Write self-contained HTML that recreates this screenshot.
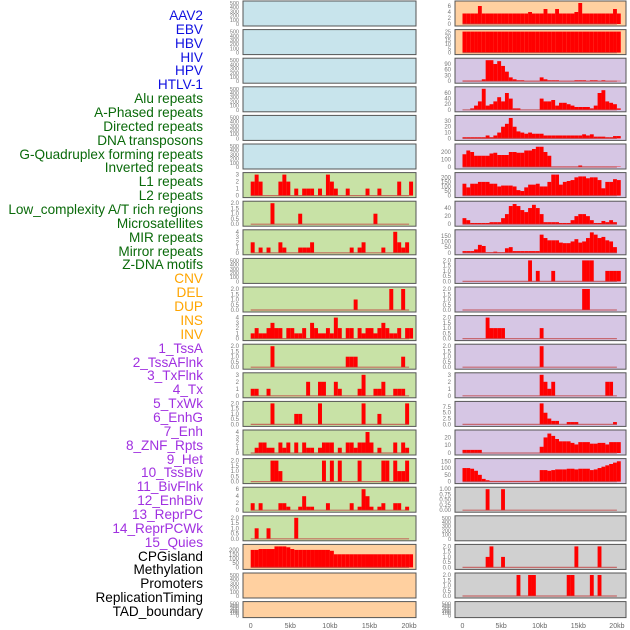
<!DOCTYPE html>
<html><head><meta charset="utf-8"><style>
body{margin:0;background:#fff;width:630px;height:630px;overflow:hidden;font-family:"Liberation Sans",sans-serif}
#labels{position:absolute;left:0;top:0;width:203px}
.lb{position:absolute;right:0;font-size:13.6px;white-space:nowrap;line-height:14px}
svg{position:absolute;left:0;top:0}
</style></head><body>
<div id="labels"></div>
<svg id="chart" width="630" height="630"></svg>
<script>
const trackNames=["AAV2","EBV","HBV","HIV","HPV","HTLV-1","Alu repeats","A-Phased repeats","Directed repeats","DNA transposons","G-Quadruplex forming repeats","Inverted repeats","L1 repeats","L2 repeats","Low_complexity A/T rich regions","Microsatellites","MIR repeats","Mirror repeats","Z-DNA motifs","CNV","DEL","DUP","INS","INV","1_TssA","2_TssAFlnk","3_TxFlnk","4_Tx","5_TxWk","6_EnhG","7_Enh","8_ZNF_Rpts","9_Het","10_TssBiv","11_BivFlnk","12_EnhBiv","13_ReprPC","14_ReprPCWk","15_Quies","CPGisland","Methylation","Promoters","ReplicationTiming","TAD_boundary"];
const trackColorGroups=[6,13,5,15,5];
const groupColors=["#1010e0","#0a6a0a","#ffa500","#a030e0","#000"];
const xTickLabels=["0","5kb","10kb","15kb","20kb"];
const xTickKb=[0,5,10,15,20];
const E=[];
const L6=[2,3,2,0,0,0,0,2,3,2,0,1,0,1,1,1,0,1,0,3,2,1,0,0,1,0,0,0,0,1,0,0,1,0,0,0,0,2,0,0,2];
const L7=[0,0,0,0,0,2,0,0,0,0,0,0,1,0,0,0,0,0,0,0,0,0,0,0,0,0,0,0,0,0,0,1,0,0,0,0,0,0,0,0,0];
const L8=[2,0,1,0,1,0,0,2,1,0,0,0,1,1,1,2,0,0,0,0,0,0,0,0,0,1,0,1,2,0,0,0,0,1,0,0,4,2,1,2,0];
const L10=[0,0,0,0,0,0,0,0,0,0,0,0,0,0,0,0,0,0,0,0,0,0,0,0,0,0,1,0,0,0,0,0,0,0,0,2,0,0,2,0,0];
const L11=[1,2,1,1,2,3,2,2,0,2,2,1,1,2,0,3,2,1,1,2,1,4,2,0,2,2,0,2,1,2,2,1,2,3,2,1,1,2,0,2,2];
const L12=[0,0,0,0,0,2,0,0,0,0,0,0,0,0,0,0,0,0,0,0,0,0,0,0,1,1,1,0,0,0,0,0,0,0,0,0,0,0,1,0,0];
const L13=[1,1,0,0,1,0,0,0,0,0,0,0,0,0,2,0,0,2,2,0,0,2,1,0,0,0,0,1,3,0,0,1,1,2,0,0,1,1,1,0,0];
const L14=[0,0,0,0,0,2,0,0,0,0,0,1,1,0,0,0,0,2,0,0,0,0,0,0,0,0,0,0,2,0,0,0,1,0,0,0,0,0,0,2,0];
const L15=[0,1,2,2,1,1,0,2,1,2,0,2,0,2,1,1,0,1,2,2,2,0,1,0,2,2,1,2,2,4,2,0,1,0,0,0,2,0,2,1,0];
const L16=[0,0,0,0,0,2,2,1,0,0,0,0,0,0,0,0,0,0,2,0,2,0,2,0,0,0,0,2,0,0,0,0,0,2,2,0,2,1,1,2,0];
const L17=[2,0,2,0,0,0,0,2,2,1,0,0,1,4,1,1,0,0,0,2,0,0,0,0,0,2,0,1,6,4,1,0,1,2,0,0,2,2,0,1,0];
const L18=[0,1,0,0,1,0,0,0,0,0,0,2,0,0,0,0,0,0,0,0,0,0,0,0,0,0,0,0,0,0,0,0,0,0,0,0,0,0,0,0,0];
const L19=[200,200,210,210,210,210,240,240,240,230,210,200,200,200,200,200,200,200,200,200,190,150,150,150,150,150,150,150,150,150,150,150,150,150,150,150,150,150,150,150,150];
const R0=[3.5,3.5,3.5,3.5,6,3.5,3.5,3.5,3.5,3.5,3.5,3.5,3.5,3.5,3.5,3.5,3.5,4,3.5,3.5,3.5,5,3.5,3.5,5,3.5,3.5,3.5,3.5,4,7,3.5,3.5,3.5,3.5,3.5,3.5,3.5,3.5,5,3.5];
const R1=[25,25,25,25,25,25,25,25,25,25,25,25,25,25,25,25,25,25,25,25,25,25,25,25,25,25,25,25,25,25,25,25,25,25,25,25,25,25,25,25,25];
const R2=[3,3,3,3,3,10,110,110,90,105,80,50,20,10,5,5,2,2,2,2,20,10,5,5,5,2,2,2,2,5,5,5,2,5,5,2,5,2,2,2,2];
const R3=[0,0,5,15,30,75,15,20,30,45,30,60,40,5,5,0,0,0,0,0,40,30,30,35,15,25,25,20,15,10,10,10,10,5,15,60,70,30,25,20,5];
const R4=[2,2,2,2,2,2,5,2,5,10,20,25,35,20,12,10,8,10,8,8,8,5,5,5,5,5,5,5,5,5,5,7,5,7,3,3,3,2,2,4,4];
const R5=[170,220,200,150,150,150,150,180,190,160,160,160,200,200,190,190,220,220,240,270,270,200,150,5,5,5,5,5,5,5,20,5,5,5,5,5,5,5,5,5,5];
const R6=[130,90,130,130,150,150,150,130,130,100,110,110,110,100,60,50,90,120,120,130,100,100,150,230,230,120,150,160,170,200,210,210,190,200,200,170,80,150,150,180,170];
const R7=[15,10,3,3,3,3,3,5,5,5,15,25,45,50,45,35,30,40,48,40,25,5,5,5,5,3,3,3,10,20,25,25,20,10,3,3,8,5,10,5,0];
const R8=[15,15,15,30,70,60,5,5,10,5,5,40,50,15,15,15,15,15,15,15,160,130,110,110,110,90,85,85,100,120,90,100,130,180,160,130,140,110,100,50,0];
const R9=[0,0,0,0,0,0,0,0,0,0,0,0,0,0,0,0,0,2,0,1,0,0,0,1,0,0,0,0,0,0,0,2,2,2,0,0,0,1,1,1,1];
const R10=[0,0,0,0,0,0,0,0,0,0,0,0,0,0,0,0,0,0,0,0,0,0,0,0,0,0,0,0,0,0,0,2,2,0,0,0,0,0,0,0,0];
const R11=[0,0,0,0,0,0,2,1,1,1,1,0,0,0,0,0,0,0,0,0,1,0,0,0,0,0,0,0,0,0,0,0,0,0,0,0,0,0,0,0,0];
const R12=[0,0,0,0,0,0,0,0,0,0,0,0,0,0,0,0,0,0,0,0,2,0,0,0,0,0,0,0,0,0,0,0,0,0,0,0,0,0,0,0,0];
const R13=[0,0,0,0,0,0,0,0,0,0,0,0,0,0,0,0,0,0,0,0,3,2,1,2,0,0,0,0,0,0,0,0,0,0,0,0,0,2,2,0,0];
const R14=[0,0,0,0,0,0,0,0,0,0,0,0,0,0,0,0,0,0,0,0,9,5,2.5,1.5,1.5,0,0,1,1,1,0,0,0,0,0,0,0,0,0,1,0];
const R15=[4,4,4,4,4,0,0,0,0,0,0,0,0,0,0,0,0,0,0,0,8,20,25,22,18,15,15,15,13,11,14,14,14,12,12,13,13,11,14,14,14];
const R16=[100,100,95,80,50,20,10,5,5,5,5,5,5,5,5,5,5,5,5,5,85,85,80,85,90,90,90,95,95,90,95,95,95,85,90,100,110,120,130,140,150];
const R17=[0,0,0,0,0,0,1,0,0,0,1,0,0,0,0,0,0,0,0,0,0,0,0,0,0,0,0,0,0,0,0,0,0,0,0,0,0,0,0,0,0];
const R19=[0,0,0,0,0,0,1,2,0,0,1,0,0,0,0,0,0,0,0,0,0,0,0,0,0,0,0,0,0,2,0,0,0,0,0,2,0,0,0,0,0];
const R20=[0,0,0,0,0,0,0,0,0,0,0,0,0,0,2,0,0,2,2,0,0,0,0,0,0,0,0,2,2,0,0,0,0,2,0,2,0,0,0,0,0];
const T500=["0","100","200","300","400","500"];
const T2=["0.0","0.5","1.0","1.5","2.0"];
const T3=["0","1","2","3"];
const T4=["0","1","2","3","4"];
const T6=["0","2","4","6"];
const TCpG=["0","50","100","150","200"];
const leftData=[E,E,E,E,E,E,L6,L7,L8,E,L10,L11,L12,L13,L14,L15,L16,L17,L18,L19,E,E];
const leftMax=[500,500,500,500,500,500,3,2,4,500,2,4,2,3,2,4,2,6,2,240,500,500];
const leftTicks=[T500,T500,T500,T500,T500,T500,T3,T2,T4,T500,T2,T4,T2,T3,T2,T4,T2,T6,T2,TCpG,T500,T500];
const rightData=[R0,R1,R2,R3,R4,R5,R6,R7,R8,R9,R10,R11,R12,R13,R14,R15,R16,R17,E,R19,R20,E];
const rightMax=[7,25,110,75,36,280,230,52,185,2,2,2,2,3,9,27,155,1,500,2,2,500];
const rightTicks=[T6,["0","5","10","15","20","25"],["0","30","60","90"],["0","20","40","60"],["0","10","20","30"],["0","100","200"],TCpG,["0","20","40"],["0","50","100","150"],T2,T2,T2,T2,T3,["0.0","2.5","5.0","7.5"],["0","10","20"],["0","50","100","150"],["0.00","0.25","0.50","0.75","1.00"],T500,T2,T2,T500];
const leftBg=["#c8e4ec","#c8e4ec","#c8e4ec","#c8e4ec","#c8e4ec","#c8e4ec","#c8e2a6","#c8e2a6","#c8e2a6","#c8e2a6","#c8e2a6","#c8e2a6","#c8e2a6","#c8e2a6","#c8e2a6","#c8e2a6","#c8e2a6","#c8e2a6","#c8e2a6","#ffd0a0","#ffd0a0","#ffd0a0"];
const rightBg=["#ffd0a0","#ffd0a0","#d6c6e4","#d6c6e4","#d6c6e4","#d6c6e4","#d6c6e4","#d6c6e4","#d6c6e4","#d6c6e4","#d6c6e4","#d6c6e4","#d6c6e4","#d6c6e4","#d6c6e4","#d6c6e4","#d6c6e4","#d0d0d0","#d0d0d0","#d0d0d0","#d0d0d0","#d0d0d0"];

const NS="http://www.w3.org/2000/svg";
const svg=document.getElementById('chart');
function mk(t,a,p){const e=document.createElementNS(NS,t);for(const k in a)e.setAttribute(k,a[k]);(p||svg).appendChild(e);return e;}

const lab=document.getElementById('labels');
let gi=0,cnt=0;
trackNames.forEach((n,i)=>{
  while(cnt>=trackColorGroups[gi]){cnt-=trackColorGroups[gi];gi++;}
  cnt++;
  const d=document.createElement('div');
  d.className='lb';d.textContent=n;d.style.color=groupColors[gi];
  d.style.top=(9+i*13.86)+'px';
  
  
  lab.appendChild(d);
});

const cols=[{x0:243,x1:416,z:250.7,s:7.92,data:leftData,max:leftMax,ticks:leftTicks,bg:leftBg,name:'left'},
            {x0:455,x1:626,z:462.5,s:7.72,data:rightData,max:rightMax,ticks:rightTicks,bg:rightBg,name:'right'}];
cols.forEach(c=>{
  const xs=kb=>c.z+kb*c.s;
  for(let i=0;i<22;i++){
    const top=1+i*28.6, h=(i==21?16:25);
    const g=mk('g',{});
    
    
    mk('rect',{x:c.x0,y:top,width:c.x1-c.x0,height:h,fill:c.bg[i],stroke:'#555','stroke-width':1},g);
    const y0=top+h-2, yt=top+2;
    const ys=v=>y0-(v/c.max[i])*(y0-yt);
    const tl=c.ticks[i];
    tl.forEach((t,k)=>{
      const v=c.max[i]==500?k*100:parseFloat(t);
      const tx=mk('text',{x:c.x0-4,y:ys(v)+2,'font-size':(tl.length>5?5.5:6),fill:'#777','text-anchor':'end'},g);
      tx.textContent=t;
      
      
    });
    const vals=c.data[i];
    vals.forEach((v,b)=>{
      if(!v)return;
      const r=mk('rect',{x:xs(b*0.5),y:ys(v),width:c.s*0.5,height:y0-ys(v),fill:'#ff0000'},g);
      
      
    });
    if(vals.length){
      const bl=mk('line',{x1:xs(0),x2:xs(20),y1:y0,y2:y0,stroke:'#c04040','stroke-width':1.2,'stroke-opacity':0.7},g);
      
      
    }
  }
  xTickKb.forEach((kb,k)=>{
    const t=mk('text',{x:xs(kb),y:628,'font-size':7,fill:'#666','text-anchor':'middle'});
    t.textContent=xTickLabels[k];
    
    
  });
});
</script>
</body></html>
